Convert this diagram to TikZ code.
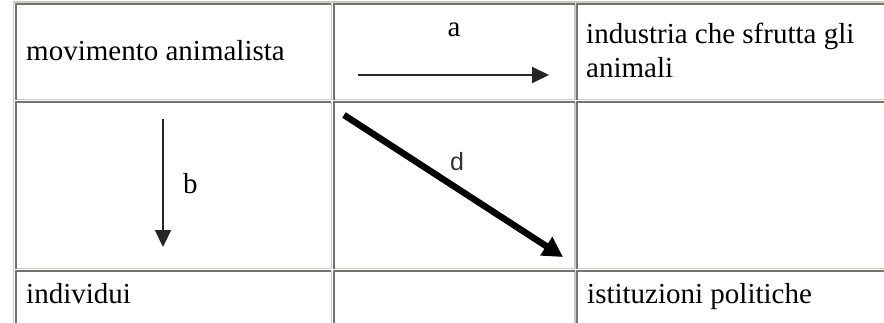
\documentclass[tikz,border=0pt]{standalone}
\usepackage{fontspec}
\setmainfont{Liberation Serif}
\newfontfamily\labsans{Liberation Sans}
\usetikzlibrary{arrows.meta}
\definecolor{bdark}{RGB}{118,116,110}
\definecolor{blight}{RGB}{204,202,196}
\tikzset{
  cellbox/.style={inner sep=0pt, font=\fontsize{29}{34}\selectfont, text=black},
  darkline/.style={draw=bdark, line width=1.9pt},
  lightline/.style={draw=blight, line width=1.6pt},
  thinarrow/.style={draw=black!85, line width=2.2pt, -{Triangle[length=17pt,width=16pt]}},
  thickarrow/.style={draw=black, line width=6.5pt, -{Triangle[length=20pt,width=21pt]}},
  arrowlab/.style={inner sep=0pt, font=\fontsize{29}{34}\selectfont},
  sanslab/.style={inner sep=0pt, font=\labsans\fontsize{25}{28}\selectfont, text=black!80}
}
\begin{document}
\begin{tikzpicture}[x=1pt,y=-1pt]
\useasboundingbox (0,0) rectangle (884,322);
\fill[white] (0,0) rectangle (884,322);
% table outer border
\draw[lightline] (13.6,330) -- (13.6,1.9) -- (900,1.9);
% cells: columns x0..x1, rows y0..y1
\foreach \xa/\xb in {15.6/331.4, 333.6/575.2, 577.2/900}{
  \foreach \ya/\yb in {3.8/99.6, 101.8/268.6, 270.6/330}{
    \draw[lightline] (\xb,\ya) -- (\xb,\yb) -- (\xa,\yb);
    \draw[darkline] (\xa,\yb) -- (\xa,\ya) -- (\xb,\ya);
  }
}
% texts
\node[cellbox, anchor=base west] (mov) at (26,60) {movimento animalista};
\node[cellbox, anchor=north west, align=left] (ind) at (586,23) {industria che sfrutta gli\\animali};
\node[cellbox, anchor=base west] (indiv) at (26,303) {individui};
\node[cellbox, anchor=base west] (ist) at (587,303) {istituzioni politiche};
% arrow a
\coordinate (a1) at (358,75);
\coordinate (a2) at (549,75);
\draw[thinarrow] (a1) -- (a2);
\node[arrowlab, anchor=base] (la) at (454,36) {a};
% arrow b
\coordinate (b1) at (163,119);
\coordinate (b2) at (163,247);
\draw[thinarrow] (b1) -- (b2);
\node[arrowlab, anchor=base west] (lb) at (183,193) {b};
% arrow d
\coordinate (d1) at (344,115);
\coordinate (d2) at (563,257);
\draw[thickarrow] (d1) -- (d2);
\node[sanslab, anchor=base] (ld) at (457,170) {d};
\end{tikzpicture}
\end{document}
